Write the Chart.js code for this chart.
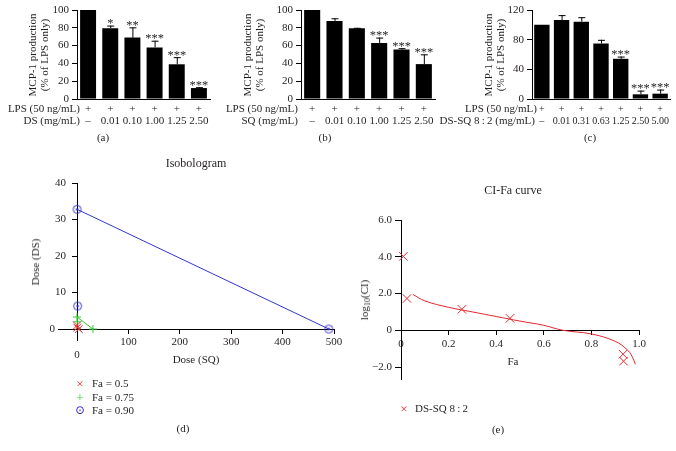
<!DOCTYPE html>
<html><head><meta charset="utf-8">
<script src="https://cdn.jsdelivr.net/npm/chart.js@4.4.1/dist/chart.umd.min.js"></script>
<style>
body{margin:0;background:#fff;width:676px;height:451px;position:relative;overflow:hidden;font-family:"Liberation Serif","DejaVu Serif",serif;color:#231f20}
canvas{position:absolute}
.t{position:absolute;font-size:11px;white-space:nowrap;line-height:1}
.cc{transform:translate(-50%,-50%)}
.rc{transform:translate(-100%,-50%)}
.lc{transform:translate(0,-50%)}
.rot{transform:translate(-50%,-50%) rotate(-90deg);text-align:center;line-height:12px}
sub{font-size:8px;vertical-align:-2px;line-height:0}
</style></head><body>
<canvas id="ca" width="220" height="140" style="left:0;top:0"></canvas>
<canvas id="cb" width="220" height="140" style="left:225px;top:0"></canvas>
<canvas id="cc" width="231" height="140" style="left:445px;top:0"></canvas>
<canvas id="cd" width="344" height="200" style="left:10px;top:168px"></canvas>
<canvas id="ce" width="324" height="194" style="left:330px;top:205px"></canvas>

<div class="t rot" style="left:38px;top:55px">MCP-1 production<br>(% of LPS only)</div>
<div class="t rot" style="left:253px;top:55px">MCP-1 production<br>(% of LPS only)</div>
<div class="t rot" style="left:494px;top:55px">MCP-1 production<br>(% of LPS only)</div>

<div class="t rc" style="left:80px;top:108px">LPS (50 ng/mL)</div>
<div class="t rc" style="left:80px;top:120px">DS (mg/mL)</div>
<div class="t rc" style="left:298px;top:108px">LPS (50 ng/mL)</div>
<div class="t rc" style="left:298px;top:120px">SQ (mg/mL)</div>
<div class="t rc" style="left:537px;top:108px">LPS (50 ng/mL)</div>
<div class="t rc" style="left:535px;top:120px">DS-SQ 8&#8201;:&#8201;2 (mg/mL)</div>

<div class="t cc" style="left:103px;top:137px">(a)</div>
<div class="t cc" style="left:325px;top:137px">(b)</div>
<div class="t cc" style="left:590px;top:137px">(c)</div>

<div class="t cc" style="left:196px;top:163px;font-size:12px">Isobologram</div>
<div class="t rot" style="left:35px;top:262px">Dose (DS)</div>
<div class="t cc" style="left:196px;top:359px">Dose (SQ)</div>
<div class="t cc" style="left:80px;top:383px;color:#e0282e;font-size:13px">×</div>
<div class="t lc" style="left:92px;top:383px">Fa = 0.5</div>
<div class="t cc" style="left:80px;top:397px;color:#33cc33;font-size:13px">+</div>
<div class="t lc" style="left:92px;top:397px">Fa = 0.75</div>
<div class="t cc" style="left:80px;top:410px;color:#3333cc;font-size:12px">⊙</div>
<div class="t lc" style="left:92px;top:410px">Fa = 0.90</div>
<div class="t cc" style="left:183px;top:428px">(d)</div>

<div class="t cc" style="left:513px;top:190px;font-size:12px">CI-Fa curve</div>
<div class="t rot" style="left:364px;top:300px">log<sub>10</sub>(CI)</div>
<div class="t cc" style="left:513px;top:361px">Fa</div>
<div class="t cc" style="left:404px;top:408px;color:#e0282e;font-size:13px">×</div>
<div class="t lc" style="left:415px;top:408px">DS-SQ 8&#8201;:&#8201;2</div>
<div class="t cc" style="left:498px;top:429px">(e)</div>

<script>
// ---------- data ----------
const lpsRowA = ['+','+','+','+','+','+'];
const doseA = ['–','0.01','0.10','1.00','1.25','2.50'];
const valA = [100,79.5,69,58,39,12.3];
const errA = [0,3,11.5,7.5,8,1];
const starA = ['','*','**','***','***','***'];

const lpsRowB = ['+','+','+','+','+','+'];
const doseB = ['–','0.01','0.10','1.00','1.25','2.50'];
const valB = [100,87.7,79.5,63,55.6,39.2];
const errB = [0,3,0.5,6,1.5,11];
const starB = ['','','','***','***','***'];

const lpsRowC = ['+','+','+','+','+','+','+'];
const doseC = ['–','0.01','0.31','0.63','1.25','2.50','5.00'];
const valC = [100,106.6,104.3,74.8,54.2,6.3,7.2];
const errC = [0,6.5,6,5,3,5,5.5];
const starC = ['','','','','***','***','***'];

const yTicksAB = [0,20,40,60,80,100];
const yTicksC = [0,20,40,60,80,100,120];

// isobologram (x = dose SQ, y = dose DS)
const iso50Line = [{x:0,y:1.0},{x:3.5,y:0}];
const iso50Pt = [{x:0.4,y:0.4}];
const iso75Line = [{x:0,y:3.3},{x:31,y:0}];
const iso75Pt = [{x:0.5,y:2.0}];
const iso90Line = [{x:0,y:32.8},{x:490,y:0}];
const iso90Pt = [{x:1.2,y:6.3}];
const isoXTicks = [0,100,200,300,400,500];
const isoYTicks = [0,10,20,30,40];

// CI-Fa
const ciFa = [0.01,0.025,0.256,0.458,0.933,0.935];
const ciLog = [4.02,1.73,1.14,0.65,-1.3,-1.68];
const curveFa = [0.05,0.1,0.2,0.3,0.4,0.5,0.6,0.68,0.8,0.9,0.95,0.97,0.985];
const curveLog = [1.95,1.6,1.25,1.0,0.75,0.5,0.27,0.0,-0.2,-0.6,-1.05,-1.4,-1.85];
const ciXTicks = [0,0.2,0.4,0.6,0.8,1.0];
const ciYTicks = [-2,0,2,4,6];

// ---------- setup ----------
Chart.defaults.font.family = '"Liberation Serif","DejaVu Serif",serif';
Chart.defaults.font.size = 11;
Chart.defaults.color = '#231f20';
const RED='#e0282e', GREEN='#33cc33', BLUE='#3333cc';

const errPlugin = {
  id:'err',
  afterDatasetsDraw(chart, args, opts){
    const {ctx} = chart; const y = chart.scales.y;
    const meta = chart.getDatasetMeta(0);
    const vals = chart.data.datasets[0].data;
    ctx.save();
    ctx.strokeStyle='#000'; ctx.lineWidth=1; ctx.fillStyle='#231f20';
    ctx.font='12.5px "Liberation Serif"'; ctx.textAlign='center'; ctx.textBaseline='alphabetic';
    meta.data.forEach((bar,i)=>{
      const e = opts.err[i];
      const top = y.getPixelForValue(vals[i]+e);
      if (e>0){
        ctx.beginPath();
        ctx.moveTo(bar.x+0.5, bar.y); ctx.lineTo(bar.x+0.5, top);
        ctx.moveTo(bar.x-3, top+0.5); ctx.lineTo(bar.x+4, top+0.5);
        ctx.stroke();
      }
      if (opts.stars[i]) ctx.fillText(opts.stars[i], bar.x, top+1.5);
    });
    ctx.restore();
  }
};

function setTicks(arr){ return s => { s.ticks = arr.map(v=>({value:v})); }; }

function barChart(id, lps, doses, vals, err, stars, yticks, tickSize, yw, pr, barPct){
  new Chart(document.getElementById(id), {
    type:'bar',
    data:{labels:doses, datasets:[{data:vals, backgroundColor:'#000', barPercentage:barPct, categoryPercentage:1}]},
    options:{
      responsive:false, animation:false,
      layout:{padding:{top:10,right:pr,bottom:9,left:0}},
      plugins:{legend:{display:false}, tooltip:{enabled:false}, err:{err, stars}},
      scales:{
        x:{grid:{display:false}, border:{color:'#000'},
           ticks:{padding:-4, autoSkip:false, maxRotation:0, font:{size:tickSize, lineHeight:12/tickSize},
                  callback:(v,i)=>[lps[i], doses[i]]},
           afterFit:s=>{s.height=32}},
        y:{min:0, max:yticks[yticks.length-1], afterBuildTicks:setTicks(yticks),
           ticks:{padding:3},
           grid:{drawOnChartArea:false, tickLength:5, color:'#000'}, border:{color:'#000'},
           afterFit:s=>{s.width=yw}}
      }
    },
    plugins:[errPlugin]
  });
}
barChart('ca', lpsRowA, doseA, valA, errA, starA, yTicksAB, 11, 77, 10, 0.72);
barChart('cb', lpsRowB, doseB, valB, errB, starB, yTicksAB, 11, 76, 10, 0.72);
barChart('cc', lpsRowC, doseC, valC, errC, starC, yTicksC, 10, 87, 6, 0.78);

// dotted circle point style
const dotC = document.createElement('canvas'); dotC.width=11; dotC.height=11;
{ const g=dotC.getContext('2d'); g.strokeStyle=BLUE; g.fillStyle=BLUE; g.lineWidth=1;
  g.beginPath(); g.arc(5.5,5.5,4,0,Math.PI*2); g.stroke();
  g.beginPath(); g.arc(5.5,5.5,1.3,0,Math.PI*2); g.fill(); }

new Chart(document.getElementById('cd'), {
  type:'scatter',
  data:{datasets:[
    {data:iso50Line, showLine:true, borderColor:RED, borderWidth:1, pointStyle:'crossRot', pointRadius:5.5, pointBorderColor:RED},
    {data:iso50Pt, borderColor:RED, pointStyle:'crossRot', pointRadius:5.5, pointBorderWidth:1},
    {data:iso75Line, showLine:true, borderColor:GREEN, borderWidth:1, pointStyle:'cross', pointRadius:4, pointBorderColor:GREEN},
    {data:iso75Pt, borderColor:GREEN, pointStyle:'cross', pointRadius:4, pointBorderWidth:1},
    {data:iso90Line, showLine:true, borderColor:BLUE, borderWidth:1, pointStyle:dotC},
    {data:iso90Pt, borderColor:BLUE, pointStyle:dotC}
  ]},
  options:{
    responsive:false, animation:false, clip:false,
    layout:{padding:{top:15,right:20,bottom:28,left:48}},
    plugins:{legend:{display:false}, tooltip:{enabled:false}},
    scales:{
      x:{type:'linear', position:{y:0}, min:-37, max:500, afterBuildTicks:setTicks(isoXTicks),
         ticks:{padding:2, callback:v=> v===0 ? ['','0'] : String(v)},
         grid:{drawOnChartArea:false, tickLength:4, color:'#000'}, border:{color:'#000'},
         afterFit:s=>{s.height=0}},
      y:{type:'linear', position:{x:0}, min:-3, max:40, afterBuildTicks:setTicks(isoYTicks),
         ticks:{padding:3, callback:v=> v===0 ? '0        ' : String(v)+'    '},
         grid:{drawOnChartArea:false, tickLength:5, color:'#000'}, border:{color:'#000'},
         afterFit:s=>{s.width=0}}
    }
  }
});

new Chart(document.getElementById('ce'), {
  type:'scatter',
  data:{datasets:[
    {data:curveFa.map((x,i)=>({x, y:curveLog[i]})), showLine:true, tension:0.4, borderColor:RED, borderWidth:1, pointRadius:0},
    {data:ciFa.map((x,i)=>({x, y:ciLog[i]})), borderColor:RED, pointStyle:'crossRot', pointRadius:6, pointBorderWidth:1}
  ]},
  options:{
    responsive:false, animation:false, clip:false,
    layout:{padding:{top:15,right:15,bottom:20,left:0}},
    plugins:{legend:{display:false}, tooltip:{enabled:false}},
    scales:{
      x:{type:'linear', position:{y:0}, min:0, max:1, afterBuildTicks:setTicks(ciXTicks),
         ticks:{padding:3, callback:v=> v===0 ? '0' : v.toFixed(1)},
         grid:{drawOnChartArea:false, tickLength:4, color:'#000'}, border:{color:'#000'},
         afterFit:s=>{s.height=0}},
      y:{type:'linear', position:'left', min:-2.65, max:6, afterBuildTicks:setTicks(ciYTicks),
         ticks:{padding:3, callback:v=> v===0 ? '0' : (v<0?'−':'')+Math.abs(v).toFixed(1)},
         grid:{drawOnChartArea:false, tickLength:6, color:'#000'}, border:{color:'#000'},
         afterFit:s=>{s.width=71}}
    }
  }
});
</script>
</body></html>
